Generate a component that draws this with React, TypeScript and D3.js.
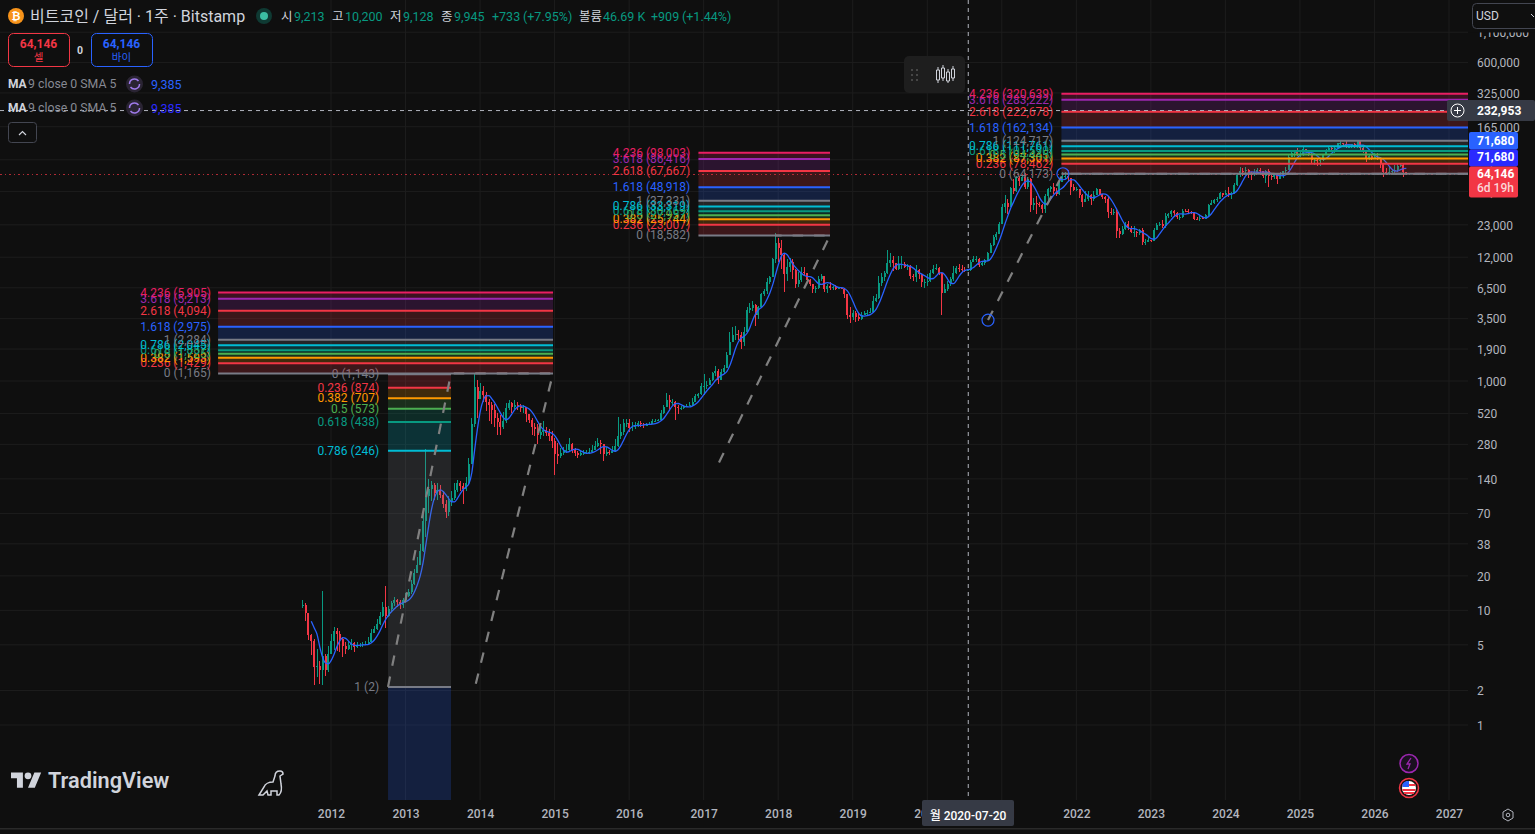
import { useEffect, useRef } from "react";
import * as d3 from "d3";

// bars are two weeks apart, 26 per calendar year, first one mid Aug 2011
const firstBarYear = 2011.62;
const barsPerYear = 26;

const closes = [
  // 2011
  11.2, 9.5, 6.1, 5.4, 3.2, 3.3, 3.0, 4.0, 3.0, 4.2,
  // 2012
  5.4, 6.6, 6.2, 5.6, 4.9, 4.6, 5.0, 5.2, 4.8, 5.0, 5.0, 5.1, 5.1, 5.3, 6.4, 6.9, 7.6, 9.0, 10.8, 9.0, 10.2, 11.6, 12.3, 11.8, 11.2, 12.2,
  // 2013
  13.4, 14.5, 17, 21, 25, 33, 60, 100, 115, 125, 105, 112, 102, 85, 72, 90, 95, 112, 128, 122, 115, 128, 190, 420, 880, 700,
  // 2014
  820, 760, 650, 620, 560, 480, 440, 400, 450, 580, 640, 590, 620, 600, 580, 590, 520, 460, 400, 380, 340, 360, 375, 350, 330, 300,
  // 2015
  230, 220, 235, 250, 250, 280, 250, 235, 225, 235, 235, 240, 240, 250, 270, 290, 280, 230, 240, 235, 245, 270, 330, 360, 430, 430,
  // 2016
  390, 400, 410, 430, 420, 415, 415, 420, 450, 450, 455, 530, 590, 680, 650, 660, 590, 580, 580, 600, 610, 620, 660, 740, 770, 900,
  // 2017
  900, 920, 1020, 1180, 1230, 1020, 1190, 1300, 1700, 2200, 2500, 2550, 2500, 2200, 2700, 4200, 4350, 4600, 3800, 4400, 5700, 6100, 7300, 8000, 11500, 16000,
  // 2018
  14500, 12500, 8500, 9800, 10900, 9200, 7000, 7600, 9000, 8700, 7600, 7000, 6300, 6500, 7700, 8200, 6300, 6800, 6500, 6600, 6400, 6500, 6400, 5700, 3800, 3600,
  // 2019
  3900, 3650, 3450, 3800, 3900, 3900, 4000, 5000, 5300, 7200, 8000, 8700, 10700, 11300, 10600, 9500, 10400, 10500, 9800, 10100, 8300, 8000, 9200, 8500, 7300, 7300,
  // 2020
  7400, 8700, 9400, 9700, 8800, 5900, 6300, 7000, 7700, 8800, 9700, 9500, 9300, 9200, 9300, 10900, 11700, 11700, 10300, 10700, 11300, 13000, 15500, 18200, 19200, 23500,
  // 2021
  33000, 36000, 33000, 48000, 45500, 59000, 55800, 60000, 49000, 58000, 34500, 35500, 35300, 34000, 31400, 41400, 47000, 48800, 45000, 42500, 54600, 60900, 61400, 58600, 49000, 46700,
  // 2022
  47300, 41800, 36500, 38400, 42000, 39000, 42200, 47000, 42700, 40400, 38500, 30000, 29400, 29800, 20500, 19200, 21300, 23300, 21500, 19800, 20100, 19400, 20600, 16300, 16400, 16800,
  // 2023
  16600, 20900, 23000, 23300, 22400, 27500, 28400, 30300, 29400, 26900, 27100, 30500, 30300, 29900, 29300, 26000, 25800, 26500, 26000, 27900, 34500, 35400, 37700, 38700, 43800, 42300,
  // 2024
  44000, 41800, 43200, 51500, 62000, 68000, 67200, 69500, 64000, 63400, 67000, 69000, 67500, 61000, 67700, 61800, 60000, 63300, 58300, 62800, 68000, 69300, 90000, 97000, 100000, 94000,
  // 2025
  94500, 104500, 102000, 96000, 84000, 84000, 83000, 84500, 94000, 103000, 107000, 106000, 108500, 118000, 118000, 117000, 110000, 110000, 116000, 112000, 123000, 108000, 102000, 87000, 91000, 88000,
  // 2026
  90000, 88000, 78000, 67000, 66000, 66000, 68000, 69000, 75000, 77000, 66000, 64146,
];

const highs = [
  12.2, 11.5, 8.0, 6.2, 5.6, 4.6, 3.6, 14.7, 4.2, 4.9,
  6.2, 7.2, 7.0, 6.6, 5.8, 5.3, 5.4, 5.6, 5.3, 5.3, 5.2, 5.3, 5.4, 5.9, 6.9, 7.3, 8.4, 9.6, 11.8, 16.4, 11, 12, 13, 12.6, 12.2, 12.7,
  14.2, 15.5, 18.5, 23, 29, 38, 70, 255, 140, 135, 128, 130, 125, 110, 92, 100, 110, 130, 138, 135, 128, 145, 215, 480, 1165, 1030,
  960, 900, 800, 700, 650, 630, 530, 510, 540, 640, 680, 660, 680, 660, 630, 620, 590, 520, 480, 430, 420, 420, 450, 400, 385, 365,
  320, 290, 260, 265, 285, 320, 290, 260, 245, 245, 250, 250, 260, 275, 300, 320, 305, 285, 265, 250, 270, 310, 490, 420, 470, 465,
  465, 440, 440, 450, 450, 430, 430, 440, 470, 470, 470, 560, 620, 780, 760, 700, 670, 620, 600, 615, 630, 650, 710, 770, 790, 970,
  1150, 1010, 1070, 1200, 1340, 1260, 1260, 1370, 1800, 2700, 2950, 3000, 2800, 2700, 2950, 4450, 4800, 4980, 4700, 4550, 5850, 6400, 7900, 8300, 11800, 19700,
  17500, 17000, 13000, 11500, 11800, 11700, 9400, 9000, 9900, 9900, 8800, 7800, 7000, 6800, 8300, 8500, 8300, 7000, 7300, 6800, 6900, 6600, 6500, 6500, 5700, 4400,
  4200, 4100, 3900, 4000, 4100, 4200, 4300, 5500, 5700, 8300, 8700, 9100, 13800, 13000, 12300, 10800, 12300, 12300, 10900, 10500, 10300, 8500, 10350, 9500, 8600, 7700,
  8500, 9200, 10300, 10500, 9900, 8200, 7000, 7500, 8000, 10000, 10000, 10400, 10200, 9800, 9500, 11400, 12400, 12400, 11800, 11200, 11600, 13300, 16000, 18800, 19800, 24300,
  35000, 42000, 38500, 49500, 58000, 61700, 61000, 61800, 64900, 59600, 59500, 39400, 41300, 36500, 35000, 42600, 48100, 50500, 52900, 48500, 56000, 67000, 67000, 69000, 59000, 51900,
  49000, 44500, 43000, 45800, 45000, 42500, 45000, 48200, 47500, 42900, 41000, 40000, 32000, 31900, 31500, 21800, 22500, 24500, 25000, 22500, 22700, 20500, 21000, 21400, 17200, 18300,
  17000, 21600, 23900, 24300, 25200, 28900, 29100, 31000, 30900, 29800, 28000, 31400, 31800, 31500, 30200, 29600, 26800, 27500, 27400, 28600, 35200, 37800, 38400, 40200, 44700, 44000,
  45900, 48900, 44400, 52800, 64000, 72900, 71500, 73000, 71000, 67000, 71000, 72000, 71900, 67000, 69700, 69900, 65000, 65000, 64500, 66500, 68400, 73600, 93500, 99800, 104000, 108000,
  102000, 109000, 106000, 102000, 97000, 88000, 88000, 86000, 95500, 105000, 112000, 110000, 110000, 119000, 123000, 120000, 124000, 113000, 117500, 118000, 126000, 124000, 110000, 104000, 94000, 94500,
  97000, 97000, 90000, 79000, 72000, 74000, 71000, 76000, 79000, 80000, 78000, 67000,
];

const lows = [
  10.5, 8, 5.5, 4.1, 2.25, 2.6, 2.3, 2.25, 2.7, 2.9,
  4.2, 4.5, 4.4, 4.3, 3.9, 4.2, 4.5, 4.5, 4.3, 4.7, 4.8, 4.8, 5, 5.1, 5.2, 6.3, 6.8, 7.5, 8.8, 7.0, 8.8, 9.7, 11, 10.8, 10.3, 10.5,
  12.5, 13, 14, 16.5, 21, 25, 32, 44, 70, 90, 92, 92, 95, 78, 64, 66, 82, 92, 108, 110, 85, 110, 125, 190, 400, 480,
  700, 650, 550, 450, 420, 400, 340, 340, 380, 430, 560, 530, 570, 560, 540, 530, 440, 430, 340, 330, 280, 310, 330, 330, 300, 260,
  150, 190, 215, 225, 235, 245, 235, 220, 215, 220, 225, 230, 230, 240, 250, 265, 230, 200, 220, 225, 235, 240, 265, 310, 340, 400,
  360, 370, 380, 400, 395, 390, 405, 410, 420, 440, 445, 450, 520, 590, 550, 620, 460, 520, 560, 570, 600, 610, 610, 650, 710, 760,
  760, 860, 920, 1000, 1100, 950, 1080, 1180, 1300, 1700, 2200, 2300, 2300, 1900, 2000, 2800, 3900, 4100, 3000, 3500, 4400, 5500, 5700, 7000, 8000, 10800,
  11000, 9500, 6000, 7500, 9000, 7800, 6500, 6600, 7300, 8300, 7200, 6700, 5800, 5900, 6300, 7400, 6000, 5900, 6200, 6200, 6200, 6300, 6300, 5300, 3500, 3200,
  3400, 3300, 3350, 3400, 3800, 3700, 3900, 4000, 4900, 5200, 6800, 7500, 8600, 9900, 9100, 9200, 9300, 9500, 9600, 9300, 7700, 7400, 7300, 7800, 6600, 6500,
  6800, 7300, 8500, 9200, 8400, 3800, 5800, 6100, 6700, 7400, 8500, 9000, 8900, 8900, 9100, 9100, 11000, 11000, 9900, 10100, 10300, 11200, 13000, 15100, 17000, 19000,
  27700, 29000, 28800, 33000, 43000, 44900, 50500, 55000, 47000, 47000, 30000, 31000, 28800, 32700, 29300, 29400, 37300, 44500, 42800, 40700, 42000, 54000, 57500, 55600, 42000, 45500,
  45500, 39700, 33000, 36300, 36800, 34400, 37200, 41800, 42000, 38600, 35500, 26500, 28000, 28000, 17600, 17700, 18900, 20700, 20800, 19600, 18200, 18200, 18700, 15500, 15500, 16400,
  16300, 16500, 20800, 22600, 21400, 21500, 26600, 27200, 26900, 25800, 25400, 26400, 29500, 29000, 28800, 25200, 25300, 25000, 25900, 26500, 27200, 34100, 34800, 36700, 38600, 40500,
  42000, 40000, 38500, 42500, 50500, 60000, 60800, 65000, 59500, 56500, 61000, 66000, 65500, 58400, 53700, 49000, 57000, 57500, 52500, 60000, 58900, 65500, 68900, 90000, 90500, 92300,
  89000, 92000, 98000, 91000, 78000, 76500, 75000, 74500, 83000, 93000, 100500, 100500, 98000, 107000, 115000, 112000, 108000, 107000, 108000, 108500, 108000, 103000, 98000, 80500, 84000, 84500,
  87000, 85000, 72000, 60000, 62000, 62000, 63000, 65000, 67000, 73000, 60000, 62500,
];

const years = d3.range(2012, 2028);
const priceTicks = [1, 2, 5, 10, 20, 38, 70, 140, 280, 520, 1000, 1900, 3500, 6500, 12000, 23000, 45000, 85000, 165000, 325000, 600000, 1100000];

// fib tools
const fibRatios = [0, 0.236, 0.382, 0.5, 0.618, 0.786, 1, 1.618, 2.618, 3.618, 4.236];
const fibColors = ["#787b86", "#f23645", "#ff9800", "#4caf50", "#089981", "#00bcd4", "#787b86", "#2962ff", "#f23645", "#9c27b0", "#e91e63"];
const fibA = [1165, 1429, 1593, 1725, 1857, 2045, 2284, 2975, 4094, 5213, 5905];
const fibB = [18582, 23007, 25744, 27957, 30169, 33319, 37331, 48918, 67667, 86416, 98003];
const fibC = [64173, 78462, 87301, 94445, 101590, 111761, 124717, 162134, 222678, 283222, 320639];
const retrace = [1143, 874, 707, 573, 438, 246, 2.15];

const bg = "#0f0f0f";
const grid = "#1d1d1d";
const up = "#089981";
const down = "#f23645";
const blue = "#2962ff";
const font = "Roboto, 'Noto Sans CJK KR', sans-serif";

const App = () => {
  const svgRef = useRef<SVGSVGElement | null>(null);

  useEffect(() => {
    const svg = d3.select(svgRef.current);
    svg.selectAll("*").remove();

    const paneW = 1468;
    const paneH = 800;

    const x = d3.scaleLinear().domain([2012, 2027]).range([331, 1449]);
    const y = d3.scaleLog().domain([1, 1000000]).range([725, 37]);
    const fmt = d3.format(",.0f");

    svg.append("rect").attr("width", 1535).attr("height", 834).attr("fill", bg);
    svg.append("defs").append("clipPath").attr("id", "pane")
      .append("rect").attr("width", paneW).attr("height", paneH);

    const label = (
      g: any, tx: number, ty: number, s: string, color: string,
      size = 12, anchor = "start", weight = 400
    ) =>
      g.append("text").attr("x", tx).attr("y", ty).attr("fill", color)
        .attr("font-size", size).attr("font-family", font)
        .attr("text-anchor", anchor).attr("font-weight", weight)
        .attr("dominant-baseline", "central").text(s);

    // grid
    const gridG = svg.append("g");
    gridG.selectAll(".v").data(years).enter().append("line")
      .attr("x1", (d) => x(d)).attr("x2", (d) => x(d))
      .attr("y1", 0).attr("y2", paneH).attr("stroke", grid);
    gridG.selectAll(".h").data(priceTicks).enter().append("line")
      .attr("x1", 0).attr("x2", paneW)
      .attr("y1", (d) => y(d)).attr("y2", (d) => y(d)).attr("stroke", grid);

    const chart = svg.append("g").attr("clip-path", "url(#pane)");

    // candles
    const bars = closes.map((c, i) => ({
      t: firstBarYear + i / barsPerYear,
      o: i === 0 ? c : closes[i - 1],
      h: highs[i],
      l: lows[i],
      c,
    }));
    const candle = chart.selectAll(".bar").data(bars).enter().append("g")
      .attr("class", "bar").attr("shape-rendering", "crispEdges");
    candle.append("line")
      .attr("x1", (d) => x(d.t)).attr("x2", (d) => x(d.t))
      .attr("y1", (d) => y(d.h)).attr("y2", (d) => y(d.l))
      .attr("stroke", (d) => (d.c >= d.o ? up : down)).attr("stroke-width", 1);
    candle.append("rect")
      .attr("x", (d) => x(d.t) - 1)
      .attr("width", 2)
      .attr("y", (d) => y(Math.max(d.o, d.c)))
      .attr("height", (d) => Math.max(1, y(Math.min(d.o, d.c)) - y(Math.max(d.o, d.c))))
      .attr("fill", (d) => (d.c >= d.o ? up : down));

    // the indicator itself: 9 week MA of close with its 5 week SMA, in two week bars
    const sma = (vals: number[], n: number) =>
      vals.map((_, i) => (i < n - 1 ? NaN : (d3.mean(vals.slice(i - n + 1, i + 1)) as number)));
    const ma = sma(sma(closes, 4), 3);
    const maLine = d3.line<number>()
      .defined((d) => !isNaN(d))
      .x((_, i) => x(firstBarYear + i / barsPerYear))
      .y((d) => y(d))
      .curve(d3.curveMonotoneX);
    chart.append("path").attr("d", maLine(ma)).attr("fill", "none").attr("stroke", blue).attr("stroke-width", 1.3);

    // last price line
    chart.append("line").attr("x1", 0).attr("x2", paneW)
      .attr("y1", y(64146) + 0.8).attr("y2", y(64146) + 0.8)
      .attr("stroke", down).attr("stroke-opacity", 0.7)
      .attr("stroke-dasharray", "1.5 3").attr("shape-rendering", "crispEdges");

    // fib tools, fills take the colour of the upper level
    const drawFib = (
      prices: number[], from: number, to: number, labelYear: number,
      ratios: number[], colors: string[]
    ) => {
      const g = chart.append("g");
      prices.slice(1).forEach((p, i) => {
        g.append("rect").attr("x", x(from)).attr("width", x(to) - x(from))
          .attr("y", Math.min(y(p), y(prices[i])))
          .attr("height", Math.abs(y(p) - y(prices[i])))
          .attr("fill", colors[i + 1]).attr("fill-opacity", 0.2);
      });
      prices.forEach((p, i) => {
        g.append("line").attr("x1", x(from)).attr("x2", x(to))
          .attr("y1", y(p)).attr("y2", y(p))
          .attr("stroke", colors[i]).attr("stroke-width", 2);
        label(g, x(labelYear), y(p), `${ratios[i]} (${fmt(p)})`, colors[i], 12, "end");
      });
    };

    const dashed = (pts: [number, number][]) =>
      chart.append("path")
        .attr("d", d3.line<[number, number]>().x((d) => x(d[0])).y((d) => y(d[1]))(pts))
        .attr("fill", "none").attr("stroke", "#808080").attr("stroke-width", 2.2)
        .attr("stroke-dasharray", "10.5 11");

    // retracement, its 1.618 band runs off the bottom of the pane
    chart.append("rect").attr("x", x(2012.765)).attr("width", x(2013.61) - x(2012.765))
      .attr("y", y(2.15)).attr("height", paneH - y(2.15))
      .attr("fill", blue).attr("fill-opacity", 0.2);
    drawFib(retrace, 2012.765, 2013.61, 2012.645, fibRatios.slice(0, 7), fibColors.slice(0, 7));

    dashed([[2012.765, 2.15], [2013.61, 1165], [2014.979, 1165], [2013.932, 2.15]]);
    drawFib(fibA, 2010.485, 2014.979, 2010.39, fibRatios, fibColors);

    dashed([[2017.206, 195], [2018.695, 18582], [2017.957, 18582]]);
    drawFib(fibB, 2016.93, 2018.695, 2016.82, fibRatios, fibColors);

    dashed([[2020.815, 3400], [2021.82, 64173], [2027.3, 64173]]);
    drawFib(fibC, 2021.8, 2027.3, 2021.69, fibRatios, fibColors);

    [[2020.815, 3400], [2021.82, 64173]].forEach((d) => {
      chart.append("circle").attr("cx", x(d[0])).attr("cy", y(d[1])).attr("r", 6)
        .attr("fill", "none").attr("stroke", blue).attr("stroke-width", 1.2);
    });

    // crosshair, the label sits a hair under the exact price
    const crossX = x(2020.55);
    const crossY = y(232953) + 1;
    chart.append("line").attr("x1", crossX).attr("x2", crossX).attr("y1", 0).attr("y2", paneH)
      .attr("stroke", "#b2b5be").attr("stroke-dasharray", "4 4");
    chart.append("line").attr("x1", 0).attr("x2", paneW).attr("y1", crossY).attr("y2", crossY)
      .attr("stroke", "#b2b5be").attr("stroke-dasharray", "4 4");

    // price axis
    const axisColor = "#b2b5be";
    const yAxis = svg.append("g").attr("transform", `translate(${paneW + 9},0)`)
      .call(d3.axisRight(y).tickValues(priceTicks).tickFormat((d) => fmt(d as number)).tickSize(0).tickPadding(0));
    yAxis.select(".domain").remove();
    yAxis.selectAll("text").attr("fill", axisColor).attr("font-size", 12).attr("font-family", font).attr("dy", "0.36em");

    const tag = (ty: number, h: number, color: string, s: string, textY: number) => {
      svg.append("rect").attr("x", 1469).attr("y", ty).attr("width", 49).attr("height", h)
        .attr("rx", 2).attr("fill", color);
      label(svg, 1477, textY, s, "#fff", 12, "start", 700);
    };
    tag(132, 17.5, blue, "71,680", 140.5);
    tag(149.5, 17, "#2a2aff", "71,680", 157);
    tag(166.5, 31, down, "64,146", 173.5);
    label(svg, 1477, 188, "6d 19h", "#fbd5d8", 12, "start", 500);

    svg.append("rect").attr("x", 1447).attr("y", 100).attr("width", 88).attr("height", 21)
      .attr("rx", 2).attr("fill", "#363a45");
    label(svg, 1477, 110.5, "232,953", "#fff", 12, "start", 700);
    svg.append("circle").attr("cx", 1457.5).attr("cy", 110.5).attr("r", 6.5)
      .attr("fill", "none").attr("stroke", "#fff");
    svg.append("path").attr("d", "M1454 110.5h7M1457.5 107v7").attr("stroke", "#fff");

    // the toolbar button sits over the top tick label
    svg.append("rect").attr("x", 1468).attr("y", 0).attr("width", 67).attr("height", 32.5).attr("fill", bg);
    svg.append("rect").attr("x", 1472.5).attr("y", 3.5).attr("width", 70).attr("height", 25)
      .attr("rx", 4).attr("fill", bg).attr("stroke", "#434651");
    label(svg, 1476, 16, "USD", "#d1d4dc", 12);
    svg.append("path").attr("d", "M1531 14l3 3").attr("stroke", "#d1d4dc").attr("fill", "none");

    // time axis
    const xAxis = svg.append("g").attr("transform", `translate(0,${paneH})`)
      .call(d3.axisBottom(x).tickValues(years).tickFormat((d) => String(d)).tickSize(0).tickPadding(9));
    xAxis.select(".domain").remove();
    xAxis.selectAll("text").attr("fill", axisColor).attr("font-size", 12).attr("font-family", font).attr("font-weight", 500);

    svg.append("rect").attr("x", 922).attr("y", paneH).attr("width", 92).attr("height", 26)
      .attr("rx", 2).attr("fill", "#363a45");
    label(svg, 968, 815.5, "월 2020-07-20", "#fff", 12, "middle", 500);

    svg.append("rect").attr("x", 0).attr("y", 828).attr("width", 1535).attr("height", 1.5).attr("fill", "#2a2a2a");
    svg.append("polygon").attr("points", "1508,809 1513,812 1513,818 1508,821 1503,818 1503,812")
      .attr("fill", "none").attr("stroke", "#b2b5be");
    svg.append("circle").attr("cx", 1508).attr("cy", 815).attr("r", 1.8).attr("fill", "none").attr("stroke", "#b2b5be");

    // header
    svg.append("circle").attr("cx", 16).attr("cy", 16).attr("r", 8).attr("fill", "#f7931a");
    label(svg, 16, 16.5, "₿", "#fff", 11, "middle", 700);
    label(svg, 30, 16, "비트코인 / 달러 · 1주 · Bitstamp", "#d1d4dc", 16);
    svg.append("circle").attr("cx", 264).attr("cy", 16).attr("r", 8).attr("fill", "#0f3a33");
    svg.append("circle").attr("cx", 264).attr("cy", 16).attr("r", 4).attr("fill", "#3bbfa3");

    const ohlc: [number, string, string][] = [
      [281, "시", "#d1d4dc"], [294, "9,213", up], [332, "고", "#d1d4dc"], [345, "10,200", up],
      [390, "저", "#d1d4dc"], [403, "9,128", up], [441, "종", "#d1d4dc"], [454, "9,945", up],
      [492, "+733", up], [523, "(+7.95%)", up], [579, "볼륨", "#d1d4dc"], [603, "46.69 K", up],
      [651, "+909", up], [682, "(+1.44%)", up],
    ];
    ohlc.forEach((d) => label(svg, d[0], 16.5, d[1], d[2], 12.5));

    // sell / buy
    const sideBox = (bx: number, w: number, color: string, top: string, bottom: string) => {
      svg.append("rect").attr("x", bx + 0.5).attr("y", 33.5).attr("width", w).attr("height", 33)
        .attr("rx", 5).attr("fill", bg).attr("stroke", color);
      label(svg, bx + w / 2, 43.5, top, color, 12, "middle", 700);
      label(svg, bx + w / 2, 57, bottom, color, 10.5, "middle");
    };
    sideBox(8, 61, down, "64,146", "셀");
    label(svg, 80, 50, "0", "#d1d4dc", 10.5, "middle", 700);
    sideBox(91, 61, blue, "64,146", "바이");

    // MA rows
    const maRow = (ry: number, color: string) => {
      label(svg, 8, ry, "MA", "#d1d4dc", 12, "start", 700);
      label(svg, 28, ry, "9 close 0 SMA 5", "#868993", 12.3);
      svg.append("circle").attr("cx", 134.5).attr("cy", ry).attr("r", 8.5).attr("fill", "#2a2433");
      svg.append("path").attr("d", `M129.5 ${ry}a5 5 0 0 1 9 -3M139.5 ${ry}a5 5 0 0 1 -9 3`)
        .attr("fill", "none").attr("stroke", "#9f7aea").attr("stroke-width", 1.5);
      label(svg, 151, ry, "9,385", color, 12.5);
    };
    maRow(84, blue);
    maRow(108, "#2a2aff");

    svg.append("rect").attr("x", 8.5).attr("y", 122.5).attr("width", 28).attr("height", 20)
      .attr("rx", 3).attr("fill", bg).attr("stroke", "#434651");
    svg.append("path").attr("d", "M19 135l3.5 -3.5l3.5 3.5").attr("fill", "none").attr("stroke", "#d1d4dc").attr("stroke-width", 1.2);

    // floating toolbar
    svg.append("rect").attr("x", 904).attr("y", 56).attr("width", 61).attr("height", 37)
      .attr("rx", 5).attr("fill", "#1e1e1e");
    d3.cross(d3.range(3), d3.range(2)).forEach(([r, c]) => {
      svg.append("circle").attr("cx", 912 + c * 5).attr("cy", 70 + r * 5).attr("r", 1).attr("fill", "#555");
    });
    svg.append("path")
      .attr("d", "M938 67v3M938 80v3M943 65v3M943 78v3M948 69v3M948 81v2M953 66v3M953 78v3")
      .attr("stroke", "#d1d4dc");
    svg.append("path")
      .attr("d", "M936.5 70h3v10h-3zM941.5 68h3v10h-3zM946.5 72h3v9h-3zM951.5 69h3v9h-3z")
      .attr("fill", "none").attr("stroke", "#d1d4dc");

    // logo
    const logo = svg.append("g").attr("transform", "translate(11,769) scale(0.85)").attr("fill", "#d1d4dc");
    logo.append("path").attr("d", "M14 22H7V11H0V4h14v18zM28 22h-8l7.5-18h8L28 22z");
    logo.append("circle").attr("cx", 20).attr("cy", 8).attr("r", 4);
    label(svg, 48, 780.5, "TradingView", "#d1d4dc", 21.7, "start", 600);

    svg.append("path")
      .attr("d", "M259 795l5 -8c1 -3 5 -5 9 -5l2 -6c0 -3 2 -5 5 -5c2 0 3 1 3 3l-3 2l1 8c1 5 0 9 -2 11h-2v-4h-6v4h-3l-1 -4l-4 4z")
      .attr("fill", "none").attr("stroke", "#d1d4dc").attr("stroke-width", 1.5);

    // event markers
    svg.append("circle").attr("cx", 1409).attr("cy", 763.5).attr("r", 9)
      .attr("fill", "#1a1020").attr("stroke", "#9c27b0").attr("stroke-width", 1.5);
    svg.append("path").attr("d", "M1411 758l-4 6h3l-2 5").attr("fill", "none").attr("stroke", "#9c27b0").attr("stroke-width", 1.3);
    svg.append("circle").attr("cx", 1409).attr("cy", 788).attr("r", 9.5)
      .attr("fill", "#1a1010").attr("stroke", down).attr("stroke-width", 1.5);
    svg.append("circle").attr("cx", 1409).attr("cy", 788).attr("r", 7).attr("fill", "#fff");
    svg.append("path").attr("d", "M1402.5 785h13M1402.5 790h13M1404 793h10").attr("stroke", down).attr("stroke-width", 2);
    svg.append("path").attr("d", "M1402.5 787v-3a7 7 0 0 1 6.5 -3v6z").attr("fill", "#2962ff");
  }, []);

  return (
    <svg
      ref={svgRef}
      width="1535"
      height="834"
      style={{ position: "fixed", left: 0, top: 0, display: "block" }}
    ></svg>
  );
};

export default App;
